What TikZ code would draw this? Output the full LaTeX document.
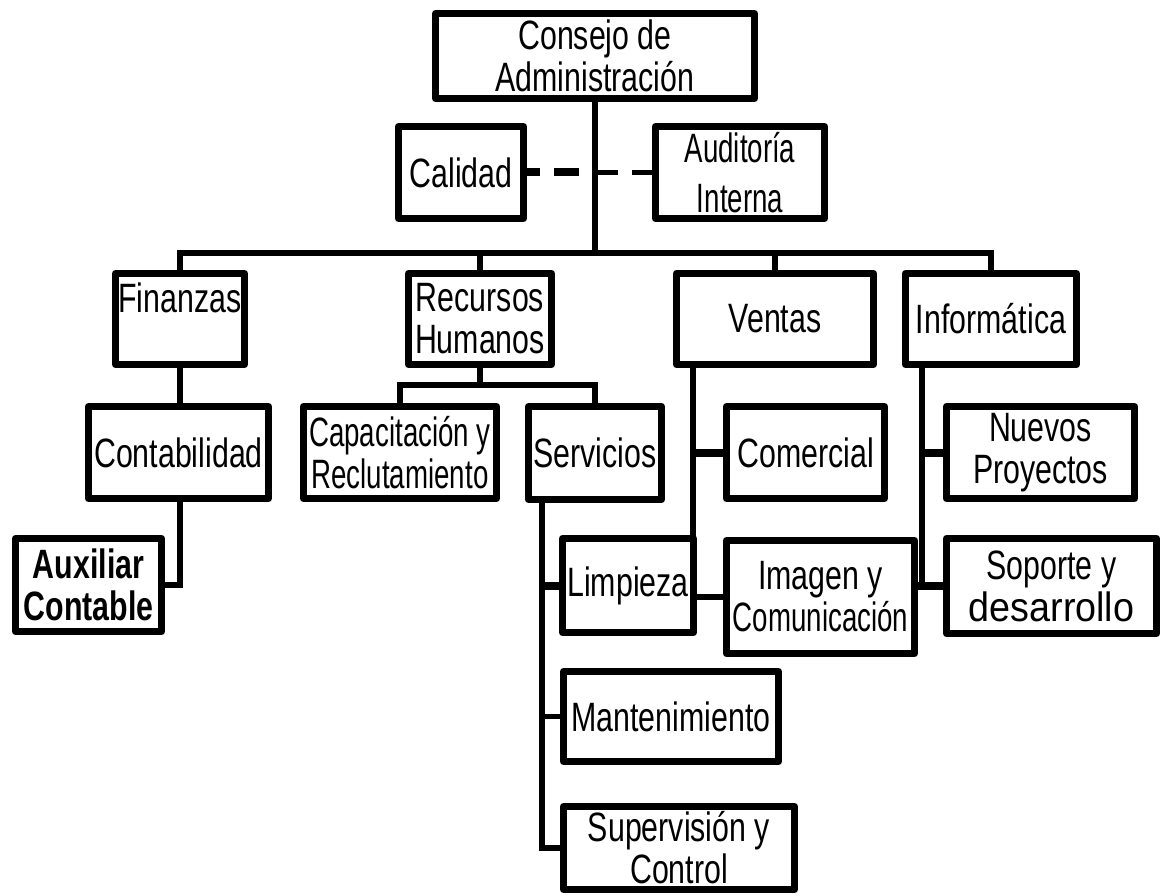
\documentclass[tikz,border=0pt]{standalone}
\usepackage{fontspec}
\setmainfont{Liberation Sans}[FakeStretch=0.74]
\newfontfamily\narrowfont{Liberation Sans}[FakeStretch=0.675]
\newfontfamily\widefont{Liberation Sans}[FakeStretch=0.92]
\begin{document}
\begin{tikzpicture}[x=1pt,y=-1pt,
  unit/.style={draw=black, line width=7pt, line join=round, fill=white,
    inner sep=0pt, outer sep=0pt, align=center,
    font=\fontsize{41pt}{42pt}\selectfont},
  link/.style={line width=5.5pt, line join=miter},
  stub/.style={line width=8pt},
  staff left/.style={line width=8pt, dash pattern=on 16pt off 14pt on 25pt off 15pt},
  staff right/.style={line width=5pt, dash pattern=on 23pt off 14pt on 22pt off 14pt}]
\useasboundingbox (0,0) rectangle (1161,896);

% fixed points of the connector runs
\coordinate (busy) at (0,253);
\coordinate (rhy) at (0,385);
\coordinate (sv) at (542,502);
\coordinate (vv) at (693,368);
\coordinate (iv) at (922,368);

% --- boxes ---
\node[unit, minimum width=319pt, minimum height=85pt] (consejo) at (595,56) {Consejo de\\Administración};
\node[unit, minimum width=125pt, minimum height=92pt] (calidad) at (461,172.5) {Calidad};
\node[unit, minimum width=169pt, minimum height=92pt] (auditoria) at (740,172.5) {\narrowfont Auditoría\\[8pt]\narrowfont Interna};

\node[unit, minimum width=129pt, minimum height=91pt] (finanzas) at (180,319) {Finanzas\\\mbox{}};
\node[unit, minimum width=143pt, minimum height=91pt] (rh) at (480,319) {Recursos\\Humanos};
\node[unit, minimum width=197pt, minimum height=91pt] (ventas) at (775,319) {Ventas};
\node[unit, minimum width=171pt, minimum height=91pt] (informatica) at (991,319) {Informática};

\node[unit, minimum width=180pt, minimum height=92pt] (contab) at (178.5,452.5) {Contabilidad};
\node[unit, minimum width=146pt, minimum height=93pt] (auxiliar) at (88.5,585) {\bfseries Auxiliar\\\bfseries Contable};
\node[unit, minimum width=193pt, minimum height=92pt] (capacit) at (400,452.5) {\narrowfont Capacitación y\\\narrowfont Reclutamiento};
\node[unit, minimum width=133pt, minimum height=93pt] (servicios) at (595,453) {Servicios};
\node[unit, minimum width=158pt, minimum height=92pt] (comercial) at (805.5,452.5) {Comercial};
\node[unit, minimum width=188pt, minimum height=92pt] (nuevos) at (1040.5,452.5) {Nuevos\\Proyectos};

\node[unit, minimum width=131pt, minimum height=94pt] (limpieza) at (628,585.5) {Limpieza};
\node[unit, minimum width=188pt, minimum height=113pt] (imagen) at (820.5,597) {Imagen y\\\narrowfont Comunicación};
\node[unit, minimum width=210pt, minimum height=95pt] (soporte) at (1051.5,586) {Soporte y\\\widefont desarrollo};
\node[unit, minimum width=215pt, minimum height=90pt] (mant) at (671,716.5) {Mantenimiento};
\node[unit, minimum width=231pt, minimum height=83pt] (superv) at (679,848) {Supervisión y\\Control};

% --- connectors ---
% trunk from the board down to the main bus
\draw[link] (consejo.south) -- (consejo.south |- busy);
% staff units, dashed on both sides of the trunk
\draw[staff left] (calidad.east) -- (calidad.east -| consejo.south);
\draw[staff right] (calidad.east -| consejo.south) -- (auditoria.west |- calidad.east);
% main bus with the four departments
\draw[link] (finanzas.north) -- (finanzas.north |- busy) -- (informatica.north |- busy) -- (informatica.north);
\draw[link] (rh.north) -- (rh.north |- busy);
\draw[link] (ventas.north) -- (ventas.north |- busy);

% Finanzas branch
\draw[link] (finanzas.south) -- (finanzas.south |- contab.north);
\draw[link] (finanzas.south |- contab.south) |- (auxiliar.east);

% Recursos Humanos branch
\draw[link] (rh.south) -- (rh.south |- rhy);
\draw[link] (capacit.north) -- (capacit.north |- rhy) -- (servicios.north |- rhy) -- (servicios.north);
\draw[link] (sv) |- (superv.west);
\draw[stub] (sv |- limpieza.west) -- (limpieza.west);
\draw[link] (sv |- mant.west) -- (mant.west);

% Ventas branch
\draw[link] (vv) -- (vv |- limpieza.north);
\draw[stub] (vv |- comercial.west) -- (comercial.west);
\draw[link] (imagen.west -| limpieza.east) -- (imagen.west);

% Informatica branch
\draw[link] (iv) -- (iv |- soporte.west);
\draw[stub] (iv |- nuevos.west) -- (nuevos.west);
\draw[stub] (imagen.east |- soporte.west) -- (soporte.west);
\end{tikzpicture}
\end{document}
